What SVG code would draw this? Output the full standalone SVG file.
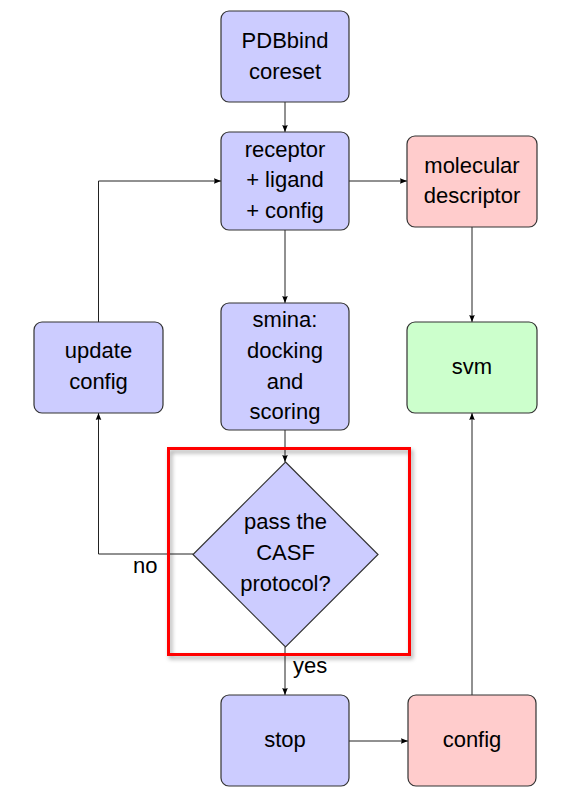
<svg xmlns="http://www.w3.org/2000/svg" width="575" height="804" viewBox="0 0 575 804">
<style>
.box{stroke:#333;stroke-width:1.2}
.blue{fill:#ccccff}
.red{fill:#ffcccc}
.green{fill:#ccffcc}
text{font-family:"Liberation Sans",Arial,sans-serif;font-size:22px;fill:#000;text-anchor:middle}
.lbl{text-anchor:start}
.edge{fill:none;stroke:#222;stroke-width:1}
</style>
<defs>
<marker id="arr" viewBox="0 0 10 10" refX="10" refY="5" markerWidth="7" markerHeight="7" markerUnits="userSpaceOnUse" orient="auto">
<path d="M0,1 L10,5 L0,9 Q2,5 0,1 Z" fill="#000"/>
</marker>
<filter id="shadow" x="-10%" y="-10%" width="125%" height="125%">
<feDropShadow dx="2" dy="3" stdDeviation="2" flood-color="#000" flood-opacity="0.35"/>
</filter>
</defs>
<rect width="575" height="804" fill="#fff"/>
<g id="connectors">
<line class="edge" x1="285" y1="102" x2="285" y2="132" marker-end="url(#arr)"/>
<line class="edge" x1="349" y1="181" x2="407" y2="181" marker-end="url(#arr)"/>
<line class="edge" x1="285" y1="230" x2="285" y2="303" marker-end="url(#arr)"/>
<line class="edge" x1="472" y1="227" x2="472" y2="322" marker-end="url(#arr)"/>
<line class="edge" x1="285" y1="430" x2="285" y2="462" marker-end="url(#arr)"/>
<polyline class="edge" points="193,554 98.5,554 98.5,413" marker-end="url(#arr)"/>
<polyline class="edge" points="98.5,322 98.5,181 221,181" marker-end="url(#arr)"/>
<line class="edge" x1="285" y1="647" x2="285" y2="695" marker-end="url(#arr)"/>
<line class="edge" x1="349" y1="741" x2="408" y2="741" marker-end="url(#arr)"/>
<line class="edge" x1="472" y1="695" x2="472" y2="413" marker-end="url(#arr)"/>
<text class="lbl" x="133" y="573">no</text>
<text class="lbl" x="293" y="673">yes</text>
</g>
<g id="pdbbind">
<rect class="box blue" x="221" y="11" width="128" height="91" rx="8"/>
<text x="285" y="48">PDBbind</text>
<text x="285" y="78.5">coreset</text>
</g>
<g id="receptor">
<rect class="box blue" x="221" y="132" width="128" height="98" rx="8"/>
<text x="285" y="156.5">receptor</text>
<text x="285" y="187">+ ligand</text>
<text x="285" y="217.5">+ config</text>
</g>
<g id="moldesc">
<rect class="box red" x="407" y="136" width="130" height="91" rx="8"/>
<text x="472" y="172.5">molecular</text>
<text x="472" y="203">descriptor</text>
</g>
<g id="smina">
<rect class="box blue" x="221" y="303" width="128" height="127" rx="8"/>
<text x="285" y="327">smina:</text>
<text x="285" y="358">docking</text>
<text x="285" y="388.5">and</text>
<text x="285" y="419">scoring</text>
</g>
<g id="update">
<rect class="box blue" x="34" y="322" width="129" height="91" rx="8"/>
<text x="98.5" y="358">update</text>
<text x="98.5" y="388.5">config</text>
</g>
<g id="svm">
<rect class="box green" x="407" y="322" width="130" height="91" rx="8"/>
<text x="472" y="374">svm</text>
</g>
<g id="decision">
<polygon class="box blue" points="285.5,462 378,554.5 285.5,647 193,554.5"/>
<text x="285.5" y="529">pass the</text>
<text x="285.5" y="560">CASF</text>
<text x="285.5" y="591">protocol?</text>
</g>
<g id="highlight">
<rect x="168.5" y="448.5" width="241" height="206" fill="none" stroke="#ff0000" stroke-width="3" filter="url(#shadow)"/>
</g>
<g id="stop">
<rect class="box blue" x="221" y="695" width="128" height="91" rx="8"/>
<text x="285" y="747">stop</text>
</g>
<g id="config">
<rect class="box red" x="408" y="695" width="128" height="91" rx="8"/>
<text x="472" y="747">config</text>
</g>
</svg>
